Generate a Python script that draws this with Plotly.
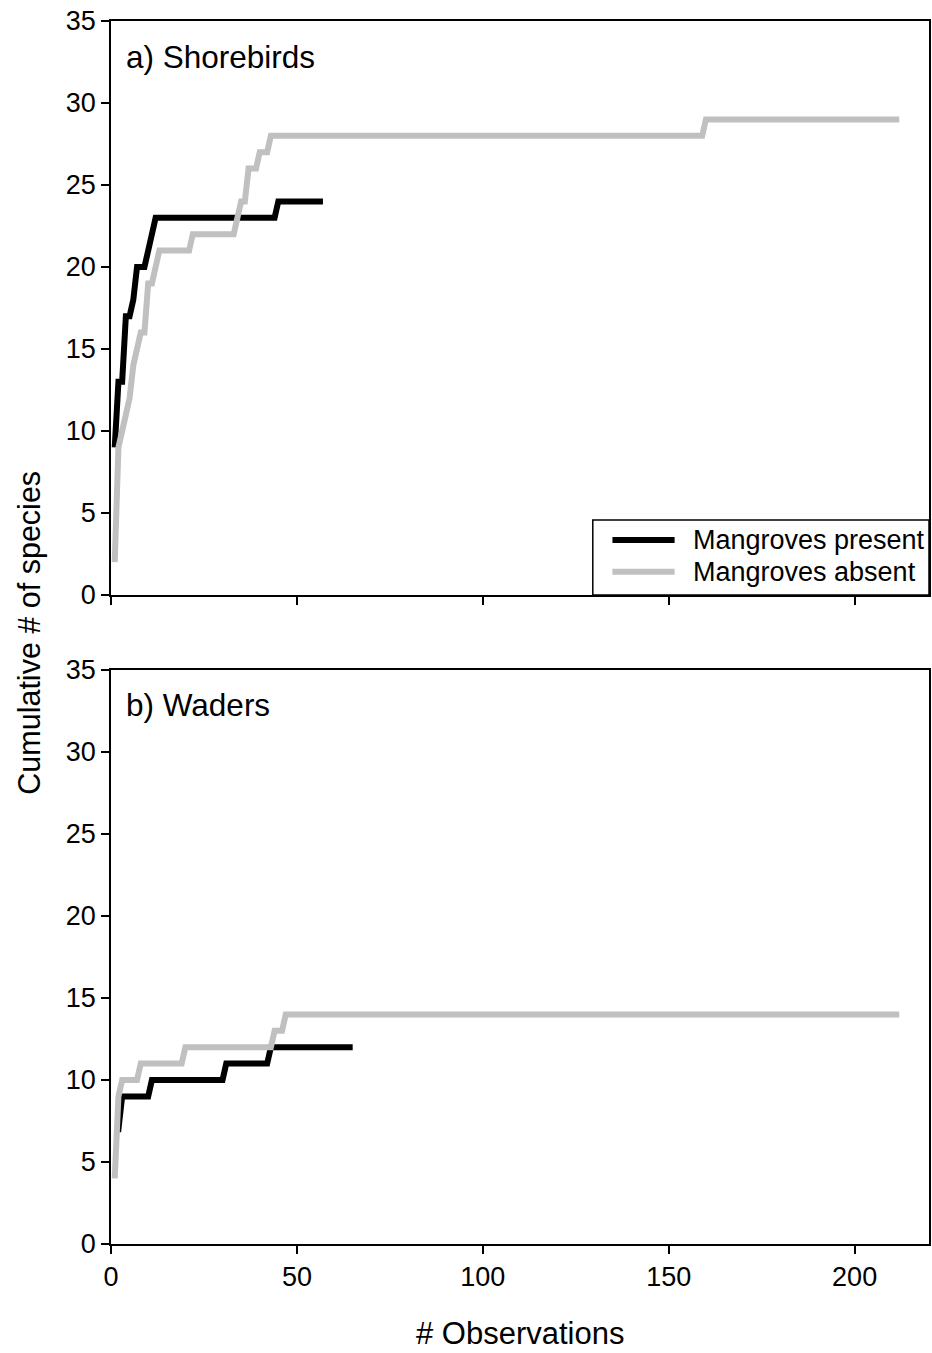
import plotly.graph_objects as go

# ---- data (step vertices) ----
shore_present_x = [1, 2, 3, 4, 5, 6, 7, 9, 10, 11, 12, 44, 45, 57]
shore_present_y = [9, 13, 13, 17, 17, 18, 20, 20, 21, 22, 23, 23, 24, 24]

shore_absent_x = [1, 2, 3, 4, 5, 6, 7, 8, 9, 10, 11, 12, 13, 21, 22, 33, 34, 35, 36, 37, 39, 40, 42, 43, 159, 160, 212]
shore_absent_y = [2, 9, 10, 11, 12, 14, 15, 16, 16, 19, 19, 20, 21, 21, 22, 22, 23, 24, 24, 26, 26, 27, 27, 28, 28, 29, 29]

wader_present_x = [1, 2, 3, 10, 11, 30, 31, 42, 43, 65]
wader_present_y = [7, 7, 9, 9, 10, 10, 11, 11, 12, 12]

wader_absent_x = [1, 2, 3, 7, 8, 19, 20, 43, 44, 46, 47, 212]
wader_absent_y = [4, 9, 10, 10, 11, 11, 12, 12, 13, 13, 14, 14]

series_names = ["Mangroves present", "Mangroves absent"]
panel_labels = ["a) Shorebirds", "b) Waders"]
x_ticks = [0, 50, 100, 150, 200]
y_ticks = [0, 5, 10, 15, 20, 25, 30, 35]
x_title = "# Observations"
y_title = "Cumulative # of species"

BLACK = "#000000"
GRAY = "#c0c0c0"
series_colors = [BLACK, GRAY]
LW = 6
FONT = "Liberation Sans, Arial, sans-serif"

fig = go.Figure()

fig.add_trace(go.Scatter(x=shore_present_x, y=shore_present_y, mode="lines",
                         line=dict(color=BLACK, width=LW), name=series_names[0],
                         showlegend=False, xaxis="x", yaxis="y"))
fig.add_trace(go.Scatter(x=shore_absent_x, y=shore_absent_y, mode="lines",
                         line=dict(color=GRAY, width=LW), name=series_names[1],
                         showlegend=False, xaxis="x", yaxis="y"))
fig.add_trace(go.Scatter(x=wader_present_x, y=wader_present_y, mode="lines",
                         line=dict(color=BLACK, width=LW), name=series_names[0],
                         showlegend=False, xaxis="x2", yaxis="y2"))
fig.add_trace(go.Scatter(x=wader_absent_x, y=wader_absent_y, mode="lines",
                         line=dict(color=GRAY, width=LW), name=series_names[1],
                         showlegend=False, xaxis="x2", yaxis="y2"))

top_dom = [0.5307, 1.0]
bot_dom = [0.0, 0.4693]

axis_common = dict(showline=True, linecolor="black", linewidth=1.5, mirror=True,
                   ticks="outside", ticklen=8, tickwidth=1.5, tickcolor="black",
                   showgrid=False, zeroline=False,
                   tickfont=dict(family=FONT, size=27, color="black"))

# legend drawn as a boxed key in the top panel (domain coordinates)
shapes = [
    dict(type="rect", xref="x domain", yref="y domain", x0=0.589, x1=1.0, y0=0.0, y1=0.1307,
         line=dict(color="black", width=1.5), fillcolor="white", layer="above"),
]
annotations = []
key_y = [0.0958, 0.0406]
for name, col, ky in zip(series_names, series_colors, key_y):
    shapes.append(dict(type="line", xref="x domain", yref="y domain", x0=0.613, x1=0.689,
                       y0=ky, y1=ky, line=dict(color=col, width=LW), layer="above"))
    annotations.append(dict(text=name, xref="x domain", yref="y domain", x=0.7085, y=ky,
                            xanchor="left", yanchor="middle", showarrow=False,
                            font=dict(family=FONT, size=27, color="black")))

annotations += [
    dict(text=panel_labels[0], xref="x domain", yref="y domain", x=0.016, y=0.937,
         xanchor="left", yanchor="middle", showarrow=False,
         font=dict(family=FONT, size=31.5, color="black")),
    dict(text=panel_labels[1], xref="x2 domain", yref="y2 domain", x=0.016, y=0.939,
         xanchor="left", yanchor="middle", showarrow=False,
         font=dict(family=FONT, size=31.5, color="black")),
    dict(text=x_title, xref="paper", yref="paper", x=0.5, y=-0.0728,
         xanchor="center", yanchor="middle", showarrow=False,
         font=dict(family=FONT, size=31, color="black")),
    dict(text=y_title, xref="paper", yref="paper", x=-0.1, y=0.5,
         xanchor="center", yanchor="middle", showarrow=False, textangle=-90,
         font=dict(family=FONT, size=30.5, color="black")),
]

fig.update_layout(
    width=932, height=1353,
    margin=dict(l=111, r=1, t=21, b=109),
    paper_bgcolor="white", plot_bgcolor="white",
    font=dict(family=FONT, color="black"),
    xaxis=dict(domain=[0, 1], range=[0, 220], tickvals=x_ticks, showticklabels=False,
               anchor="y", **axis_common),
    yaxis=dict(domain=top_dom, range=[0, 35], tickvals=y_ticks, anchor="x", **axis_common),
    xaxis2=dict(domain=[0, 1], range=[0, 220], tickvals=x_ticks, anchor="y2", **axis_common),
    yaxis2=dict(domain=bot_dom, range=[0, 35], tickvals=y_ticks, anchor="x2", **axis_common),
    showlegend=False,
    shapes=shapes,
    annotations=annotations,
)

fig.write_html("out.html",
               config={"displayModeBar": False},
               post_script="document.body.style.margin='0';document.body.style.overflow='hidden';")
